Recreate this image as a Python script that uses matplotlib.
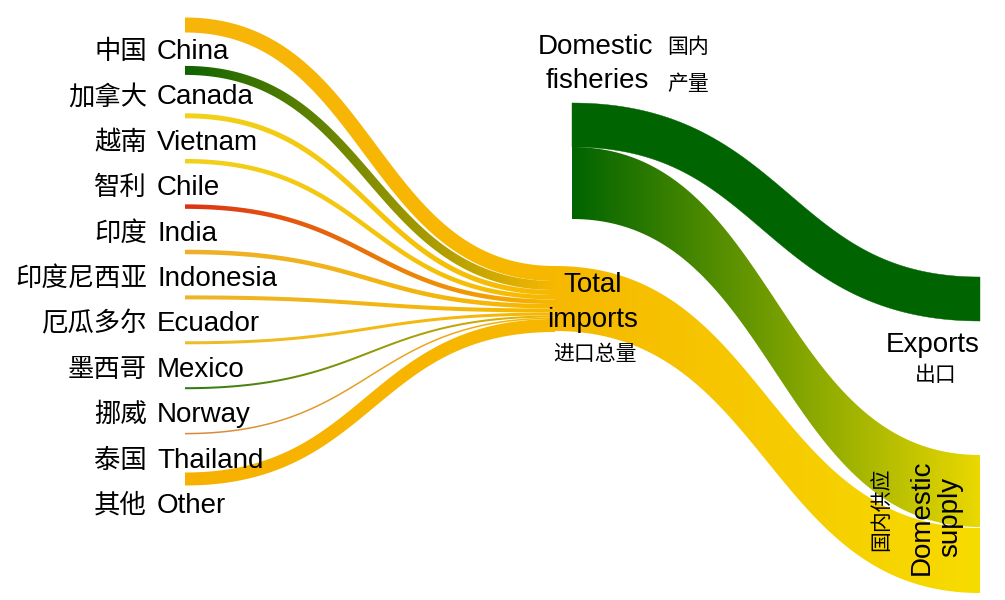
import numpy as np
import matplotlib
matplotlib.use("Agg")
import matplotlib.pyplot as plt
from matplotlib.patches import Polygon
from matplotlib.colors import to_rgb

# import partners, flow sizes (band thickness)
countries_en = ["China", "Canada", "Vietnam", "Chile", "India", "Indonesia",
                "Ecuador", "Mexico", "Norway", "Thailand", "Other"]
countries_zh = ["中国", "加拿大", "越南", "智利", "印度", "印度尼西亚",
                "厄瓜多尔", "墨西哥", "挪威", "泰国", "其他"]
imports = [15, 9, 5, 4.5, 4.5, 4.5, 4, 3, 2, 1.5, 13]
country_colors = ["#F7B50A", "#0F6400", "#F2D21C", "#F2D21C", "#DC3214", "#EEB02A",
                  "#EEB42A", "#EEBC2C", "#2A7A12", "#D8873C", "#F7B100"]

# domestic fisheries split
exports = 44
domestic_supply = 72

imports_color = "#F7B800"
green = "#006400"
supply_yellow = "#F6DC00"

EN = "Liberation Sans"
ZH = "Noto Sans CJK SC"


def centre_line(x0, y0, x1, y1, n=200):
    t = np.linspace(0, 1, n)
    xm = (x0 + x1) / 2
    x = (1-t)**3*x0 + 3*(1-t)**2*t*xm + 3*(1-t)*t**2*xm + t**3*x1
    y = (1-t)**3*y0 + 3*(1-t)**2*t*y0 + 3*(1-t)*t**2*y1 + t**3*y1
    dx = 3*(1-t)**2*(xm-x0) + 3*t**2*(x1-xm)
    dy = 6*(1-t)*t*(y1-y0)
    return x, y, dx, dy


def flow(ax, x0, y0, x1, y1, w, c0, c1=None, z=1, stroke=True):
    # y0, y1 are the top of the band at each end
    x, y, dx, dy = centre_line(x0, y0 + w / 2, x1, y1 + w / 2)
    if stroke:
        L = np.hypot(dx, dy)
        nx, ny = -dy / L, dx / L
    else:
        nx, ny = np.zeros_like(x), np.ones_like(x)
    top = np.column_stack([x - nx * w / 2, y - ny * w / 2])
    bot = np.column_stack([x + nx * w / 2, y + ny * w / 2])
    verts = np.vstack([top, bot[::-1]])
    if c1 is None:
        ax.add_patch(Polygon(verts, closed=True, facecolor=c0, edgecolor=c0,
                             lw=0.3, zorder=z))
        return
    poly = Polygon(verts, closed=True, facecolor="none", edgecolor="none")
    ax.add_patch(poly)
    grad = np.linspace(to_rgb(c0), to_rgb(c1), 256)[None, :, :]
    ys = verts[:, 1]
    im = ax.imshow(grad, extent=[x0, x1, ys.max() + 2, ys.min() - 2],
                   aspect="auto", interpolation="bilinear", zorder=z)
    im.set_clip_path(poly)


fig = plt.figure(figsize=(10.05, 6.0), dpi=100)
ax = fig.add_axes([0, 0, 1, 1])

left_x, imp_x, dom_x, right_x = 185, 555, 572, 980
imp_top = 266
row_gap = 45.4

# country flows into total imports
y_end = imp_top
for i, (v, c) in enumerate(zip(imports, country_colors)):
    yc = 25 + row_gap * i
    flow(ax, left_x, yc - v / 2, imp_x, y_end, v, c, imports_color, z=2 + (i == 1))
    y_end += v
    base = yc + 34
    ax.text(147, base, countries_zh[i], ha="right", va="baseline",
            fontsize=19, family=ZH)
    ax.text(157, base, countries_en[i], ha="left", va="baseline",
            fontsize=20, family=EN)

total_imports = sum(imports)
supply_top = 455

# domestic fisheries -> exports / domestic supply
dom_top = 103
flow(ax, dom_x, dom_top, right_x, 277, exports, green, z=1)
flow(ax, dom_x, dom_top + exports, right_x, supply_top, domestic_supply,
     green, "#EAD800", z=1, stroke=False)
# total imports -> domestic supply
flow(ax, imp_x, imp_top, right_x, supply_top + domestic_supply + 1,
     total_imports - 1, imports_color, supply_yellow, z=1, stroke=False)

# node labels
ax.text(595, 54, "Domestic", ha="center", va="baseline", fontsize=20, family=EN)
ax.text(597, 88, "fisheries", ha="center", va="baseline", fontsize=20, family=EN)
ax.text(667, 53, "国内", ha="left", va="baseline", fontsize=15, family=ZH)
ax.text(667, 90, "产量", ha="left", va="baseline", fontsize=15, family=ZH)

ax.text(593, 292, "Total", ha="center", va="baseline", fontsize=20, family=EN)
ax.text(593, 327, "imports", ha="center", va="baseline", fontsize=20, family=EN)
ax.text(595, 360, "进口总量", ha="center", va="baseline", fontsize=15, family=ZH)

ax.text(933, 352, "Exports", ha="center", va="baseline", fontsize=20, family=EN)
ax.text(936, 381, "出口", ha="center", va="baseline", fontsize=15, family=ZH)

ax.text(922, 517, "Domestic", ha="center", va="center", rotation=90,
        fontsize=20, family=EN)
ax.text(950, 517, "supply", ha="center", va="center", rotation=90,
        fontsize=20, family=EN)
ax.text(881, 509, "国内供应", ha="center", va="center", rotation=90,
        fontsize=15, family=ZH)

ax.set_xlim(0, 1005)
ax.set_ylim(600, 0)
ax.axis("off")

fig.savefig("out.png", dpi=100, facecolor="white")
